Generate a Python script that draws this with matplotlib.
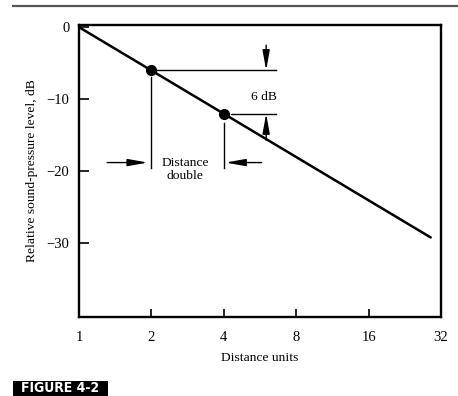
import matplotlib
matplotlib.use("Agg")
from matplotlib import pyplot as plt
from matplotlib.lines import Line2D
from matplotlib.patches import Rectangle
from matplotlib.ticker import FixedLocator, FixedFormatter, NullLocator

plt.rcParams['font.family'] = ['Liberation Serif', 'DejaVu Serif']

# inverse-square fall-off: -6 dB per doubling of distance
line_dist = [1, 29]
line_level = [0, -29.2]
dot_dist = [2, 4]
dot_level = [-6, -12]
x_ticks = [1, 2, 4, 8, 16, 32]
x_labels = ["1", "2", "4", "8", "16", "32"]
y_ticks = [0, -10, -20, -30]
y_labels = ["0", "\u221210", "\u221220", "\u221230"]

W, H = 458, 396
fig = plt.figure(figsize=(W / 100, H / 100), dpi=100)
ax = fig.add_axes([79 / W, 1 - 316.7 / H, (441 - 79) / W, (316.7 - 25) / H])

ax.plot(line_dist, line_level, color="black", lw=1.8, solid_capstyle="round")
ax.plot(dot_dist, dot_level, "o", color="black", ms=7)

# dimension lines for the 6 dB step
ax.plot([2.1, 6.57], [dot_level[0], dot_level[0]], color="black", lw=1.0)
ax.plot([4.3, 6.57], [dot_level[1], dot_level[1]], color="black", lw=1.0)
arrow = dict(arrowstyle="-|>,head_length=1.0,head_width=0.18", color="black", lw=1.0,
             shrinkA=0, shrinkB=0, mutation_scale=12)
ax.annotate("", xy=(6, dot_level[0]), xytext=(6, -2.5), arrowprops=arrow)
ax.annotate("", xy=(6, dot_level[1]), xytext=(6, -15.7), arrowprops=arrow)
ax.text(5.85, -9.7, "6 dB", ha="center", va="center", fontsize=9.7)

# dimension lines for the distance doubling
ax.plot([2, 2], [-6.9, -19.6], color="black", lw=1.0)
ax.plot([4, 4], [-13.3, -19.6], color="black", lw=1.0)
ax.annotate("", xy=(1.93, -18.8), xytext=(1.31, -18.8), arrowprops=arrow)
ax.annotate("", xy=(4.07, -18.8), xytext=(5.75, -18.8), arrowprops=arrow)
ax.text(2.76, -19.8, "Distance\ndouble", ha="center", va="center", fontsize=9.7,
        linespacing=1.1)

ax.set_xscale("log", base=2)
ax.set_xlim(1, 32)
ax.set_ylim(-40.2, 0.3)
ax.xaxis.set_major_locator(FixedLocator(x_ticks))
ax.xaxis.set_major_formatter(FixedFormatter(x_labels))
ax.xaxis.set_minor_locator(NullLocator())
ax.set_yticks(y_ticks)
ax.set_yticklabels(y_labels)
ax.tick_params(axis="x", direction="in", length=6, width=1.2, pad=10, labelsize=10.5)
ax.tick_params(axis="y", direction="in", length=7.5, width=1.2, pad=7, labelsize=10.5)
for sp in ax.spines.values():
    sp.set_linewidth(1.7)

ax.set_xlabel("Distance units", fontsize=9.7, labelpad=6)
ax.set_ylabel("Relative sound-pressure level, dB", fontsize=9.7, labelpad=6)

# page rule and figure tag
fig.add_artist(Line2D([13 / W, 1.0], [1 - 6 / H, 1 - 6 / H], color="#555555", lw=1.6))
fig.add_artist(Rectangle((13 / W, 0), 95 / W, 15.5 / H, transform=fig.transFigure,
                         facecolor="black", edgecolor="none"))
fig.text(60 / W, 0.5 / H, "FIGURE 4-2", color="white", fontsize=10, fontweight="bold",
         family="DejaVu Sans", fontstretch="condensed", ha="center", va="bottom")

fig.savefig("out.png", dpi=100)
